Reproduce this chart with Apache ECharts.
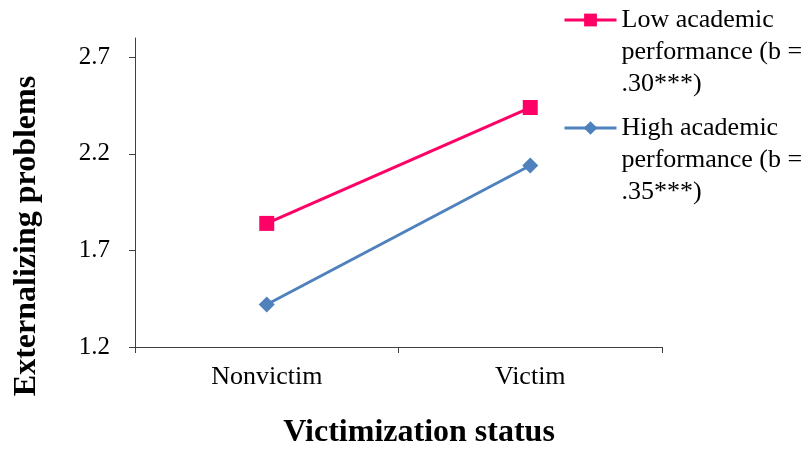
<!DOCTYPE html>
<html>
<head>
<meta charset="utf-8">
<script src="https://cdn.jsdelivr.net/npm/echarts@6/dist/echarts.min.js"></script>
<style>
  html, body { margin: 0; padding: 0; background: #fff; }
  #chart { width: 811px; height: 450px; }
</style>
</head>
<body>
<div id="chart"></div>
<script>
// Victimization status categories and mean externalizing problems per group
const categories = ['Nonvictim', 'Victim'];
const lowAcademic = [1.84, 2.44];
const highAcademic = [1.42, 2.14];
const seriesNames = [
  'Low academic\nperformance (b =\n.30***)',
  'High academic\nperformance (b =\n.35***)'
];
const yTicks = [1.2, 1.7, 2.2, 2.7];

const serif = '"Liberation Serif", "Times New Roman", serif';
const pink = '#FF0066';
const blue = '#4F81BD';
const axisColor = '#404040';

// Two blank lines before the name keep the legend icon level with the first text line
const legendText = {
  fontFamily: serif,
  fontSize: 26,
  color: '#000',
  lineHeight: 32
};
const legendFormatter = name => '\n\n' + name;

const chart = echarts.init(document.getElementById('chart'), null, { renderer: 'canvas' });
chart.setOption({
  animation: false,
  backgroundColor: '#fff',
  grid: { left: 135, right: 149, top: 38, bottom: 103, containLabel: false, outerBoundsMode: 'none' },
  legend: [
    {
      data: [seriesNames[0]],
      left: 563, top: -60,
      padding: 0,
      itemWidth: 52, itemHeight: 16,
      formatter: legendFormatter,
      textStyle: legendText,
      lineStyle: { width: 3 }
    },
    {
      data: [seriesNames[1]],
      left: 563, top: 48,
      padding: 0,
      itemWidth: 52, itemHeight: 17,
      formatter: legendFormatter,
      textStyle: legendText,
      lineStyle: { width: 3 }
    }
  ],
  xAxis: {
    type: 'category',
    data: categories,
    boundaryGap: true,
    axisLine: { lineStyle: { color: axisColor, width: 1 } },
    axisTick: { show: true, length: 6, lineStyle: { color: axisColor } },
    axisLabel: { fontFamily: serif, fontSize: 26, color: '#000', margin: 17 },
    name: 'Victimization status',
    nameLocation: 'middle',
    nameGap: 70,
    nameTextStyle: { fontFamily: serif, fontSize: 32, fontWeight: 'bold', color: '#000', padding: [0, 0, 0, 41] }
  },
  yAxis: {
    type: 'value',
    min: 1.2,
    max: 2.8,
    interval: 0.5,
    splitLine: { show: false },
    axisLine: { show: true, lineStyle: { color: axisColor, width: 1 } },
    axisTick: { show: true, length: 6, inside: false, customValues: yTicks, lineStyle: { color: axisColor } },
    axisLabel: { fontFamily: serif, fontSize: 25, color: '#000', margin: 25, customValues: yTicks, formatter: v => v.toFixed(1) },
    name: 'Externalizing problems',
    nameLocation: 'middle',
    nameGap: 92,
    nameRotate: 90,
    nameTextStyle: { fontFamily: serif, fontSize: 32, fontWeight: 'bold', color: '#000', padding: [0, 87, 0, 0] }
  },
  series: [
    {
      name: seriesNames[0],
      type: 'line',
      data: lowAcademic,
      symbol: 'rect',
      symbolSize: 15,
      color: pink,
      lineStyle: { color: pink, width: 3 },
      itemStyle: { color: pink }
    },
    {
      name: seriesNames[1],
      type: 'line',
      data: highAcademic,
      symbol: 'diamond',
      symbolSize: 16,
      color: blue,
      lineStyle: { color: blue, width: 3 },
      itemStyle: { color: blue }
    }
  ]
});
</script>
</body>
</html>
